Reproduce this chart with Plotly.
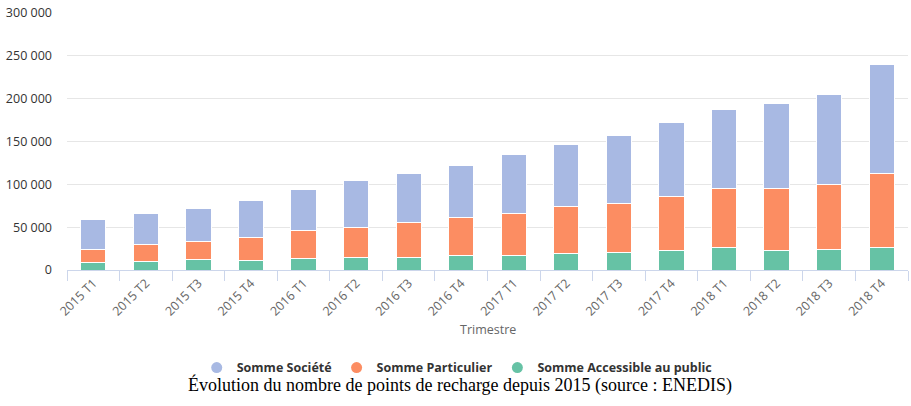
import plotly.graph_objects as go

categories = ["2015 T1", "2015 T2", "2015 T3", "2015 T4",
              "2016 T1", "2016 T2", "2016 T3", "2016 T4",
              "2017 T1", "2017 T2", "2017 T3", "2017 T4",
              "2018 T1", "2018 T2", "2018 T3", "2018 T4"]
accessible = [8500, 10100, 11700, 11300, 13200, 14400, 14400, 16700,
              16700, 19500, 20700, 23000, 26000, 22600, 24200, 26500]
particulier = [16000, 19100, 21400, 26400, 32700, 35800, 40900, 44400,
               49500, 54100, 57200, 63100, 69400, 72800, 75900, 86400]
societe = [34700, 37000, 38900, 43300, 47900, 53800, 56800, 61200,
           68100, 73200, 79400, 86400, 91900, 98900, 104700, 127400]
y_ticks = [0, 50000, 100000, 150000, 200000, 250000, 300000]
y_tick_labels = ["0", "50 000", "100 000", "150 000", "200 000", "250 000", "300 000"]

names = ["Somme Accessible au public", "Somme Particulier", "Somme Société"]
colors = {"Somme Accessible au public": "#66c2a5",
          "Somme Particulier": "#fc8d62",
          "Somme Société": "#a8b9e3"}
series = {"Somme Accessible au public": accessible,
          "Somme Particulier": particulier,
          "Somme Société": societe}

fig = go.Figure()
for n in names:
    fig.add_trace(go.Bar(x=categories, y=series[n], name=n, showlegend=False,
                         marker=dict(color=colors[n], line=dict(color="white", width=1))))
# legend entries with circular symbols
for n in ["Somme Société", "Somme Particulier", "Somme Accessible au public"]:
    fig.add_trace(go.Scatter(x=[None], y=[None], mode="markers", name=n,
                             marker=dict(color=colors[n], size=11, symbol="circle")))

fig.update_layout(
    width=911, height=406,
    margin=dict(l=67, r=3, t=13, b=136, autoexpand=False),
    barmode="stack", bargap=0.52,
    plot_bgcolor="white", paper_bgcolor="white",
    font=dict(family="Open Sans", color="#666666"),
    legend=dict(orientation="h", x=0.464, xanchor="center", y=-0.381, yanchor="middle",
                font=dict(family="Open Sans", size=12.5, color="#333333", weight="bold"),
                itemwidth=30, traceorder="normal"),
    xaxis=dict(type="category", tickangle=-45, tickson="boundaries", automargin=False,
               ticks="outside", ticklen=10, tickcolor="#ccd6eb",
               showline=True, linecolor="#ccd6eb", linewidth=1,
               tickfont=dict(size=12.5, color="#666666"), showgrid=False),
    yaxis=dict(range=[0, 300000], tickvals=y_ticks, ticktext=y_tick_labels, automargin=False,
               gridcolor="#e6e6e6", gridwidth=1, zeroline=False,
               tickfont=dict(size=12.5, color="#333333"), ticks="", ticklabelstandoff=14),
    annotations=[
        dict(text="Trimestre", xref="paper", yref="paper", x=0.5, y=-0.233,
             showarrow=False, font=dict(size=12.5, color="#666666"), yanchor="middle"),
        dict(text="Évolution du nombre de points de recharge depuis 2015 (source : ENEDIS)",
             xref="paper", yref="paper", x=0.467, y=-0.447, showarrow=False,
             font=dict(family="Liberation Serif", size=18, color="#000000"), yanchor="middle"),
    ],
)

fig.write_html("out.html", config={"displayModeBar": False},
               post_script="document.body.style.margin='0';document.body.style.overflow='hidden';")
